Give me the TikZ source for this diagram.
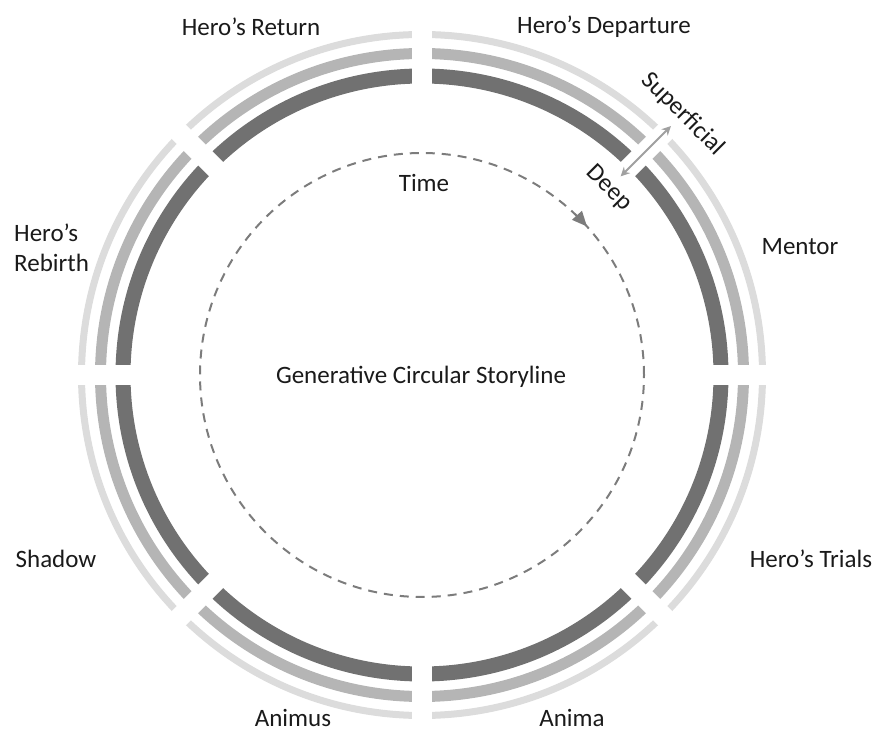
\documentclass[tikz,border=0pt]{standalone}
\usepackage{fontspec}
\setmainfont{Carlito}
\usetikzlibrary{arrows.meta}
\definecolor{ringdark}{HTML}{717171}
\definecolor{ringmid}{HTML}{B5B5B5}
\definecolor{ringlight}{HTML}{DCDCDC}
\definecolor{dashgray}{HTML}{7C7C7C}
\definecolor{arrowgray}{HTML}{A0A0A0}
\definecolor{labelink}{HTML}{1A1A1A}
\begin{document}
\begin{tikzpicture}[x=1pt,y=1pt,
  lbl/.style={font=\fontsize{25}{30}\selectfont, text=labelink, inner sep=0pt},
  cut/.style={white, line width=20pt}]
\useasboundingbox (0,0) rectangle (875,731);
\coordinate (c) at (422,356);

% three concentric bands
\draw[ringlight, line width=7pt] (c) circle (340.5);
\draw[ringmid, line width=11pt] (c) circle (321.5);
\draw[ringdark, line width=15pt] (c) circle (299);
% eight straight cuts split the bands into segments
\foreach \a in {0,45,...,315}
  \draw[cut, shift={(c)}] (\a:278) -- (\a:356);

% time circle
\draw[dashgray, line width=2pt, dash pattern=on 9pt off 7pt] (c) circle (222);
\draw[dashgray, line width=2pt, -{Triangle[length=15pt,width=13pt]}, shift={(c)}]
  (46:222) arc (46:42:222);

% depth arrow through the 45 degree cut
\path[shift={(c)}]
  (45:281) coordinate (deepEnd) (45:352) coordinate (supEnd)
  (45:369) coordinate (supPos) (45:264) coordinate (deepPos);
\draw[arrowgray, line width=2pt, {Stealth[length=9pt,width=9pt]}-{Stealth[length=9pt,width=9pt]}]
  (deepEnd) -- (supEnd);
\node[lbl, rotate=-45] (sup) at (supPos) {Superficial};
\node[lbl, rotate=-45] (deep) at (deepPos) {Deep};

% stage labels
\node[lbl] (ret) at (251,704) {Hero’s Return};
\node[lbl] (dep) at (604,704) {Hero’s Departure};
\node[lbl] (men) at (800,484) {Mentor};
\node[lbl, align=left, anchor=west] (reb) at (14,483) {Hero’s\\Rebirth};
\node[lbl] (sha) at (56,172) {Shadow};
\node[lbl] (tri) at (811,172) {Hero’s Trials};
\node[lbl] (amu) at (293,13) {Animus};
\node[lbl] (ama) at (572,13) {Anima};
\node[lbl] (time) at (424,548) {Time};
\node[lbl] (gen) at (421,354) {Generative Circular Storyline};
\end{tikzpicture}
\end{document}
